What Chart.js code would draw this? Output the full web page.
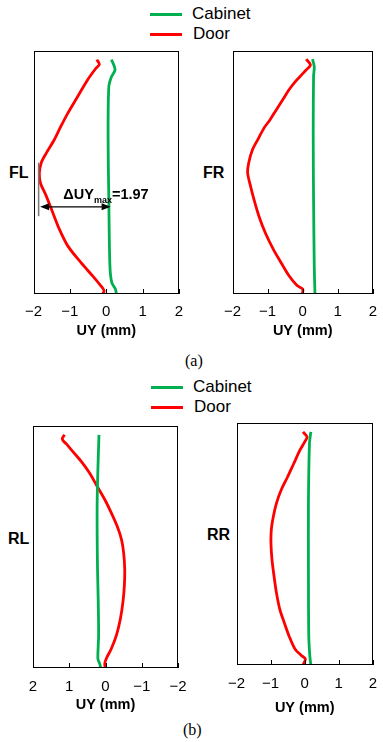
<!DOCTYPE html>
<html>
<head>
<meta charset="utf-8">
<script src="https://cdn.jsdelivr.net/npm/chart.js@4/dist/chart.umd.min.js"></script>
<style>
  body { margin: 0; width: 383px; height: 742px; background: #fff; overflow: hidden; position: relative;
         font-family: "Liberation Sans", Arial, sans-serif; color: #000; }
  canvas { position: absolute; }
  .txt { position: absolute; white-space: nowrap; height: 20px; line-height: 20px; }
  .key { position: absolute; width: 32px; height: 3px; }
  .lab { font-weight: bold; font-size: 16px; }
  .leg { font-size: 17px; }
  .cap { font-family: "Liberation Serif", "Times New Roman", serif; font-size: 16px; }
</style>
</head>
<body>

<!-- legend (a) -->
<div class="key" style="left:150px; top:13px; background:#00b050"></div>
<div class="key" style="left:150px; top:33px; background:#ff0000"></div>
<div class="txt leg" style="left:192px; top:4px">Cabinet</div>
<div class="txt leg" style="left:193px; top:24px">Door</div>

<!-- legend (b) -->
<div class="key" style="left:151px; top:386px; background:#00b050"></div>
<div class="key" style="left:151px; top:406px; background:#ff0000"></div>
<div class="txt leg" style="left:193px; top:377px">Cabinet</div>
<div class="txt leg" style="left:194px; top:397px">Door</div>

<div class="txt lab" style="left:9px; top:163px">FL</div>
<div class="txt lab" style="left:203px; top:163px">FR</div>
<div class="txt lab" style="left:8px; top:529px">RL</div>
<div class="txt lab" style="left:207px; top:525px">RR</div>

<div class="txt cap" style="left:185px; top:351px">(a)</div>
<div class="txt cap" style="left:183px; top:720px">(b)</div>

<canvas id="fl" width="179" height="293" style="left:16px; top:47px"></canvas>
<canvas id="fr" width="171" height="293" style="left:215px; top:47px"></canvas>
<canvas id="rl" width="177" height="292" style="left:17px; top:422px"></canvas>
<canvas id="rr" width="169" height="298" style="left:218px; top:419px"></canvas>

<script>
// x axis ticks (UY in mm)
var uyTicks = [-2, -1, 0, 1, 2];

// height along the door (0 = bottom, 100 = top) and UY for each curve
var flDoorH  = [100.3, 98.3, 96.5, 91.5, 84.4, 77.3, 71.7, 66.0, 60.3, 56.1, 51.8, 47.5, 41.9, 34.8, 27.7, 20.6, 13.5, 7.8, 3.5, 1.4, 0];
var flDoorUY = [-0.26, -0.19, -0.29, -0.52, -0.79, -1.06, -1.25, -1.43, -1.65, -1.79, -1.84, -1.81, -1.65, -1.47, -1.29, -1.06, -0.70, -0.38, -0.15, -0.06, -0.10];
var flCabH   = [100.3, 97.9, 95.8, 92.9, 88.7, 68.8, 40.4, 12.1, 5.0, 2.1, 0];
var flCabUY  = [0.14, 0.21, 0.24, 0.14, 0.07, 0.05, 0.07, 0.10, 0.15, 0.25, 0.28];

var frDoorH  = [100.5, 98.0, 95.9, 93.8, 90.9, 87.4, 83.1, 78.9, 74.6, 71.1, 66.1, 61.8, 56.1, 51.9, 46.9, 40.5, 33.4, 26.3, 19.2, 13.5, 7.8, 3.6, 2.1, 0];
var frDoorUY = [0.10, 0.22, 0.10, -0.03, -0.21, -0.39, -0.57, -0.75, -0.93, -1.10, -1.28, -1.43, -1.54, -1.57, -1.50, -1.39, -1.25, -1.07, -0.84, -0.62, -0.39, -0.16, 0.0, -0.01];
var frCabH   = [100.5, 97.3, 93.1, 68.9, 40.5, 12.1, 0];
var frCabUY  = [0.28, 0.33, 0.31, 0.30, 0.31, 0.33, 0.35];

var rlDoorH  = [100.2, 98.7, 97.7, 96.3, 93.0, 88.8, 83.8, 78.1, 72.4, 66.7, 61.0, 55.3, 49.6, 42.5, 35.3, 28.2, 21.1, 14.0, 8.3, 4.0, 1.9, 0];
var rlDoorUY = [1.13, 1.19, 1.17, 1.08, 0.90, 0.67, 0.44, 0.23, 0.02, -0.16, -0.32, -0.44, -0.50, -0.53, -0.52, -0.48, -0.41, -0.30, -0.16, -0.02, 0.02, 0.01];
var rlCabH   = [100.2, 85.3, 71.1, 56.8, 42.5, 28.2, 14.0, 4.0, 1.9, 0];
var rlCabUY  = [0.18, 0.21, 0.23, 0.23, 0.22, 0.20, 0.19, 0.21, 0.16, 0.13];

var rrDoorH  = [100.2, 98.0, 95.9, 92.3, 86.6, 80.9, 75.2, 69.5, 63.8, 58.1, 52.4, 45.3, 38.2, 31.1, 23.9, 18.2, 12.5, 6.8, 4.0, 2.6, 0];
var rrDoorUY = [-0.05, 0.07, 0.0, -0.14, -0.32, -0.50, -0.69, -0.83, -0.92, -0.98, -0.99, -0.96, -0.90, -0.83, -0.73, -0.60, -0.46, -0.28, -0.09, 0.02, -0.05];
var rrCabH   = [100.2, 95.2, 69.5, 41.0, 12.5, 4.0, 0];
var rrCabUY  = [0.18, 0.14, 0.11, 0.11, 0.12, 0.15, 0.18];

// the max deflection note on FL
var noteFrom = -1.82, noteTo = 0.12, noteH = 37.3, noteBarX = -1.86, noteBarTop = 56.2, noteBarBottom = 33.3;

function pts(uy, h) {
  var out = [];
  for (var i = 0; i < uy.length; i++) out.push({x: uy[i], y: h[i]});
  return out;
}

function arrowHead(ctx, x, y, dir) {
  ctx.beginPath();
  ctx.moveTo(x, y);
  ctx.lineTo(x - dir * 9, y - 3.5);
  ctx.lineTo(x - dir * 9, y + 3.5);
  ctx.closePath();
  ctx.fill();
}

// frame around the plot, inward ticks, and the note
var boxPlugin = {
  id: 'box',
  afterDatasetsDraw: function(chart, args, opts) {
    var ctx = chart.ctx, a = chart.chartArea, xs = chart.scales.x, ys = chart.scales.y;
    ctx.save();
    ctx.strokeStyle = '#000';
    ctx.lineWidth = 1;
    ctx.strokeRect(Math.round(a.left) + 0.5, Math.round(a.top) + 0.5,
                   Math.round(a.right - a.left) - 1, Math.round(a.bottom - a.top) - 1);
    ctx.beginPath();
    uyTicks.forEach(function(t) {
      var px = Math.round(xs.getPixelForValue(t)) + 0.5;
      ctx.moveTo(px, a.bottom);
      ctx.lineTo(px, a.bottom - 5);
    });
    ctx.stroke();

    if (opts.note) {
      var bx = xs.getPixelForValue(noteBarX);
      ctx.strokeStyle = '#777';
      ctx.lineWidth = 1.5;
      ctx.beginPath();
      ctx.moveTo(bx, ys.getPixelForValue(noteBarTop));
      ctx.lineTo(bx, ys.getPixelForValue(noteBarBottom));
      ctx.stroke();

      var y = ys.getPixelForValue(noteH);
      var x1 = xs.getPixelForValue(noteFrom), x2 = xs.getPixelForValue(noteTo);
      ctx.strokeStyle = '#000';
      ctx.fillStyle = '#000';
      ctx.lineWidth = 1.2;
      ctx.beginPath();
      ctx.moveTo(x1 + 4, y);
      ctx.lineTo(x2 - 4, y);
      ctx.stroke();
      arrowHead(ctx, x1, y, -1);
      arrowHead(ctx, x2, y, 1);

      // ΔUYmax=1.97
      var tx = xs.getPixelForValue(-1.18), ty = y - 8;
      ctx.textAlign = 'left';
      ctx.textBaseline = 'alphabetic';
      ctx.font = 'bold 14.5px "Liberation Sans", Arial, sans-serif';
      ctx.fillText('\u0394UY', tx, ty);
      tx += ctx.measureText('\u0394UY').width;
      ctx.font = 'bold 9px "Liberation Sans", Arial, sans-serif';
      ctx.fillText('max', tx, ty + 4);
      tx += ctx.measureText('max').width;
      ctx.font = 'bold 14.5px "Liberation Sans", Arial, sans-serif';
      ctx.fillText('=1.97', tx, ty);
    }
    ctx.restore();
  }
};

function makePanel(id, door, cab, cfg) {
  var ctx = document.getElementById(id).getContext('2d');
  return new Chart(ctx, {
    type: 'scatter',
    data: {
      datasets: [{
        label: 'Cabinet',
        data: cab,
        showLine: true,
        borderColor: '#00b050',
        borderWidth: 2.8,
        pointRadius: 0,
        tension: 0.3
      }, {
        label: 'Door',
        data: door,
        showLine: true,
        borderColor: '#ff0000',
        borderWidth: 2.8,
        pointRadius: 0,
        tension: 0.3
      }]
    },
    options: {
      responsive: false,
      animation: false,
      layout: { padding: { left: cfg.padL, right: cfg.padR, top: 4, bottom: 0 } },
      plugins: { legend: { display: false }, tooltip: { enabled: false }, box: { note: !!cfg.note } },
      scales: {
        x: {
          type: 'linear',
          min: -2, max: 2,
          reverse: !!cfg.reverse,
          grid: { display: false, drawTicks: false },
          border: { display: false },
          afterBuildTicks: function(s) { s.ticks = uyTicks.map(function(v) { return {value: v}; }); },
          afterFit: function(s) { s.height = cfg.axisH; },
          ticks: {
            padding: cfg.tickPad,
            autoSkip: false,
            maxRotation: 0,
            color: '#000',
            font: { family: '"Liberation Sans", Arial, sans-serif', size: 15 },
            callback: function(v) { return String(v).replace('-', '\u2212'); }
          },
          title: {
            display: true,
            text: 'UY (mm)',
            color: '#000',
            padding: { top: 0, bottom: 0 },
            font: { family: '"Liberation Sans", Arial, sans-serif', size: 14.5, weight: 'bold' }
          }
        },
        y: { type: 'linear', min: 0, max: 104, display: false }
      }
    },
    plugins: [boxPlugin]
  });
}

makePanel('fl', pts(flDoorUY, flDoorH), pts(flCabUY, flCabH), {padL: 16, padR: 16, axisH: 46, tickPad: 9, note: true});
makePanel('fr', pts(frDoorUY, frDoorH), pts(frCabUY, frCabH), {padL: 16, padR: 8, axisH: 46, tickPad: 9});
makePanel('rl', pts(rlDoorUY, rlDoorH), pts(rlCabUY, rlCabH), {padL: 16, padR: 16, axisH: 46, tickPad: 10, reverse: true});
makePanel('rr', pts(rrDoorUY, rrDoorH), pts(rrCabUY, rrCabH), {padL: 16, padR: 8, axisH: 52, tickPad: 10});
</script>
</body>
</html>
